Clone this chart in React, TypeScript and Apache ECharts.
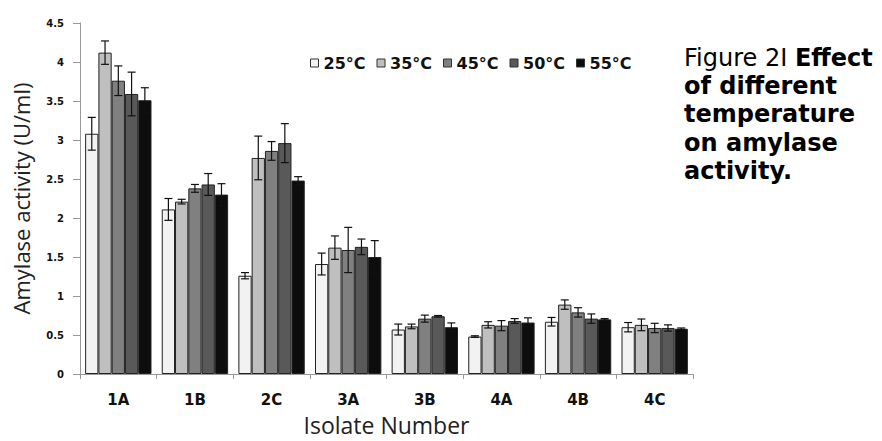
import React, { useEffect, useRef } from "react";
import * as echarts from "echarts";

const categories = ["1A", "1B", "2C", "3A", "3B", "4A", "4B", "4C"];
const seriesNames = ["25°C", "35°C", "45°C", "50°C", "55°C"];
const colors = ["#f2f2f2", "#bfbfbf", "#808080", "#595959", "#0d0d0d"];

const t25 = [3.08, 2.11, 1.26, 1.41, 0.57, 0.48, 0.67, 0.6];
const t35 = [4.12, 2.21, 2.77, 1.62, 0.61, 0.63, 0.89, 0.63];
const t45 = [3.76, 2.38, 2.86, 1.59, 0.71, 0.62, 0.79, 0.59];
const t50 = [3.59, 2.43, 2.96, 1.63, 0.74, 0.68, 0.71, 0.59];
const t55 = [3.51, 2.3, 2.48, 1.5, 0.6, 0.66, 0.7, 0.58];

const e25 = [0.21, 0.14, 0.04, 0.14, 0.07, 0.01, 0.055, 0.06];
const e35 = [0.15, 0.03, 0.28, 0.15, 0.03, 0.04, 0.06, 0.075];
const e45 = [0.19, 0.05, 0.12, 0.29, 0.045, 0.065, 0.06, 0.06];
const e50 = [0.28, 0.14, 0.25, 0.1, 0.01, 0.03, 0.06, 0.04];
const e55 = [0.16, 0.14, 0.05, 0.21, 0.055, 0.06, 0.01, 0.01];

const yTicks = ["0", "0.5", "1", "1.5", "2", "2.5", "3", "3.5", "4", "4.5"];

const values = [t25, t35, t45, t50, t55];
const errors = [e25, e35, e45, e50, e55];
const CAT_GAP = 0.134;

export default function App() {
  const ref = useRef<HTMLDivElement>(null);
  useEffect(() => {
    if (!ref.current) return;
    const chart = echarts.init(ref.current, undefined, { renderer: "svg" });
    const barSeries = seriesNames.map((name, i) => ({
      name,
      type: "bar",
      data: values[i],
      barGap: "0%",
      barCategoryGap: CAT_GAP * 100 + "%",
      itemStyle: { color: colors[i], borderColor: "#222", borderWidth: 1 },
      z: 2,
    }));
    const errSeries = seriesNames.map((name, i) => ({
      name: name + " err",
      type: "custom",
      z: 5,
      data: values[i].map((v, k) => [k, v, errors[i][k]]),
      encode: { x: 0, y: 1 },
      renderItem: (params: any, api: any) => {
        const c = api.value(0);
        const v = api.value(1);
        const e = api.value(2);
        const catW = api.size([1, 0])[0];
        const barW = (catW * (1 - CAT_GAP)) / 5;
        const cx = api.coord([c, 0])[0] + (i - 2) * barW;
        const yTop = api.coord([c, v + e])[1];
        const yBot = api.coord([c, v - e])[1];
        const hw = 4;
        const style = { stroke: "#111", lineWidth: 1.2 };
        return {
          type: "group",
          children: [
            { type: "line", shape: { x1: cx, y1: yTop, x2: cx, y2: yBot }, style },
            { type: "line", shape: { x1: cx - hw, y1: yTop, x2: cx + hw, y2: yTop }, style },
            { type: "line", shape: { x1: cx - hw, y1: yBot, x2: cx + hw, y2: yBot }, style },
          ],
        };
      },
    }));
    chart.setOption({
      animation: false,
      backgroundColor: "#ffffff",
      grid: { left: 80, right: 189, top: 23, bottom: 67, containLabel: false, outerBoundsMode: "none" },
      legend: {
        data: seriesNames,
        left: 305,
        top: 50,
        icon: "rect",
        itemWidth: 8,
        itemHeight: 8,
        itemGap: 11,
        itemStyle: { borderColor: "#333", borderWidth: 1 },
        textStyle: { fontSize: 16, fontWeight: "bold", fontFamily: "DejaVu Sans", color: "#111", padding: [0, 0, 0, 0] },
      },
      xAxis: {
        type: "category",
        data: categories,
        name: "Isolate Number",
        nameLocation: "middle",
        nameGap: 38,
        nameTextStyle: { fontSize: 23, lineHeight: 26, fontFamily: "Open Sans", color: "#222" },
        axisLine: { lineStyle: { color: "#999", width: 1 } },
        axisTick: { show: true, length: 5, lineStyle: { color: "#999" } },
        axisLabel: { fontSize: 15, fontWeight: "bold", fontFamily: "DejaVu Sans", color: "#111", margin: 18 },
      },
      yAxis: {
        type: "value",
        min: 0,
        max: 4.5,
        interval: 0.5,
        name: "Amylase activity (U/ml)",
        nameLocation: "middle",
        nameGap: 48,
        nameTextStyle: { fontSize: 22, fontFamily: "Open Sans", color: "#222" },
        splitLine: { show: false },
        axisLine: { show: true, lineStyle: { color: "#999", width: 1 } },
        axisTick: { show: true, length: 7, lineStyle: { color: "#999" } },
        axisLabel: {
          fontSize: 10,
          fontWeight: "bold",
          fontFamily: "DejaVu Sans",
          color: "#111",
          margin: 16,
          formatter: (val: number) => yTicks[Math.round(val / 0.5)] ?? String(val),
        },
      },
      graphic: [
        {
          type: "text",
          left: 684,
          top: 46,
          style: {
            text: "{n|Figure 2I }{b|Effect}\n{b|of different}\n{b|temperature}\n{b|on amylase}\n{b|activity.}",
            rich: {
              n: { fontSize: 24, fontFamily: "DejaVu Sans", color: "#222", lineHeight: 28.2 },
              b: { fontSize: 24, fontFamily: "DejaVu Sans", fontWeight: "bold", color: "#222", lineHeight: 28.2 },
            },
          },
        },
      ],
      series: [...barSeries, ...errSeries],
    });
    return () => chart.dispose();
  }, []);
  return <div ref={ref} style={{ width: 882, height: 441, position: "absolute", left: 0, top: 0 }} />;
}
